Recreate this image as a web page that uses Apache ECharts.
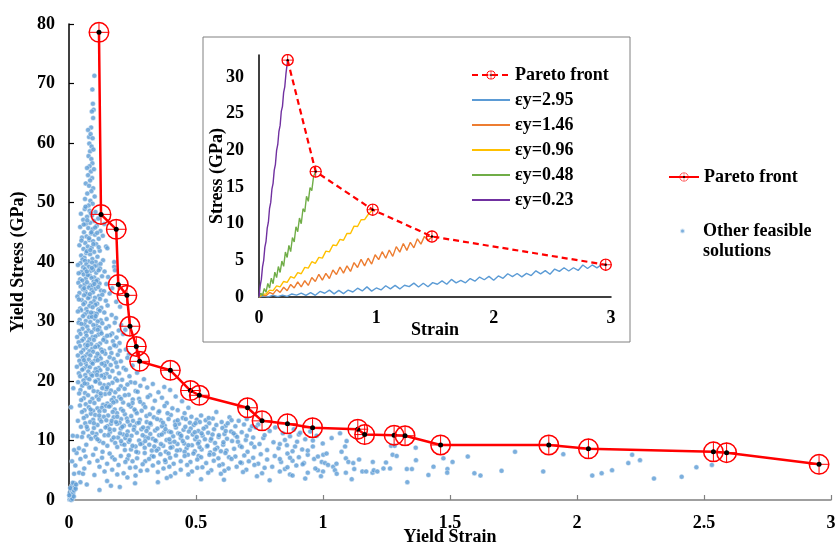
<!DOCTYPE html>
<html>
<head>
<meta charset="utf-8">
<title>Pareto front of yield stress vs yield strain</title>
<script src="https://cdn.jsdelivr.net/npm/echarts@6/dist/echarts.min.js"></script>
<style>
  html, body { margin: 0; padding: 0; background: #fff; }
  #chart { width: 835px; height: 546px; }
</style>
</head>
<body>
<div id="chart"></div>
<script>
// main chart: Pareto front (yield strain, yield stress in GPa)
const paretoStrain = [0.118, 0.126, 0.186, 0.194, 0.228, 0.240, 0.265, 0.278, 0.399, 0.478, 0.513, 0.703, 0.760,
  0.860, 0.959, 1.137, 1.164, 1.280, 1.323, 1.463, 1.889, 2.045, 2.537, 2.589, 2.953];
const paretoStress = [78.6, 48.0, 45.5, 36.2, 34.4, 29.2, 25.8, 23.3, 21.8, 18.4, 17.6, 15.5, 13.3,
  12.8, 12.15, 11.9, 11.0, 10.9, 10.8, 9.25, 9.25, 8.6, 8.1, 7.95, 6.0];

// other feasible solutions (strain, stress)
const feasiblePoints = [
  // narrow spike
  [0.100,71.3],[0.092,69.0],[0.094,66.6],[0.097,65.6],[0.090,65.3],[0.095,64.2],[0.087,62.6],[0.075,62.2],[0.079,61.0],[0.085,61.5],
  [0.093,60.8],[0.080,59.9],[0.089,59.4],[0.083,58.6],[0.096,58.9],[0.077,57.8],[0.088,57.3],[0.092,56.6],[0.081,56.1],[0.071,55.8],
  [0.086,55.2],[0.098,55.6],[0.075,54.6],[0.091,54.1],[0.083,53.7],[0.066,53.2],[0.079,52.8],[0.095,52.4],[0.088,51.9],[0.072,51.5],
  [0.101,51.0],[0.063,50.6],[0.084,50.3],[0.093,49.8],[0.077,49.5],
  // 40-49
  [0.062,48.9],[0.081,48.6],[0.104,48.4],[0.047,48.1],[0.090,47.8],[0.071,47.6],[0.115,47.3],[0.056,47.1],[0.098,46.9],[0.083,46.6],
  [0.066,46.4],[0.109,46.1],[0.044,45.9],[0.076,45.7],[0.093,45.5],[0.124,45.2],[0.059,45.0],[0.087,44.8],[0.102,44.6],[0.069,44.3],
  [0.051,44.1],[0.117,43.9],[0.080,43.7],[0.095,43.5],[0.064,43.2],[0.146,42.6],[0.151,42.3],[0.107,43.0],[0.041,42.8],[0.074,42.6],
  [0.089,42.4],[0.057,42.2],[0.121,41.9],[0.099,41.7],[0.068,41.5],[0.083,41.3],[0.048,41.1],[0.112,40.9],[0.061,40.7],[0.092,40.5],
  [0.134,40.3],[0.077,40.1],[0.105,40.0],[0.053,40.4],[0.072,47.0],[0.088,45.0],[0.079,44.0],[0.096,43.0],[0.058,46.3],[0.111,44.9],
  [0.070,41.8],[0.086,48.2],[0.065,49.3],[0.128,47.9],[0.139,46.4],[0.133,44.4],[0.103,45.8],[0.049,43.6],[0.084,42.0],[0.117,42.5],
  [0.063,40.2],[0.178,40.0],
  // 30-40
  [0.045,39.8],[0.068,39.6],[0.091,39.9],[0.112,39.4],[0.079,39.2],[0.056,39.1],[0.124,39.7],[0.178,39.2],[0.101,39.3],[0.035,39.5],
  [0.122,38.9],[0.181,38.6],[0.063,38.8],[0.085,38.5],[0.049,38.3],[0.107,38.2],[0.073,38.0],[0.095,38.7],[0.140,38.4],[0.038,38.1],
  [0.117,38.6],[0.058,37.9],[0.082,37.7],[0.099,37.4],[0.066,37.2],[0.130,37.6],[0.044,37.1],[0.113,37.0],[0.089,37.3],[0.154,37.5],
  [0.074,37.8],[0.052,36.9],[0.097,36.7],[0.120,36.4],[0.061,36.2],[0.083,36.1],[0.108,36.8],[0.037,36.5],[0.147,36.3],[0.071,36.6],
  [0.092,36.0],[0.046,35.9],[0.078,35.7],[0.104,35.5],[0.126,35.2],[0.065,35.0],[0.089,35.3],[0.115,35.8],[0.170,35.6],[0.055,35.4],
  [0.138,35.1],[0.041,34.8],[0.069,34.6],[0.094,34.9],[0.118,34.3],[0.081,34.1],[0.059,34.4],[0.102,34.0],[0.160,34.7],[0.131,34.5],
  [0.033,34.2],[0.075,33.9],[0.050,33.6],[0.098,33.4],[0.122,33.8],[0.086,33.1],[0.063,33.2],[0.111,33.0],[0.145,33.5],[0.186,33.3],
  [0.039,33.7],[0.057,32.9],[0.080,32.6],[0.104,32.8],[0.127,32.3],[0.068,32.1],[0.093,32.4],[0.044,32.2],[0.152,32.7],[0.116,32.0],
  [0.201,32.5],[0.048,31.9],[0.073,31.6],[0.097,31.4],[0.121,31.8],[0.062,31.2],[0.085,31.0],[0.139,31.5],[0.168,31.1],[0.035,31.7],
  [0.109,31.3],[0.055,30.9],[0.079,30.7],[0.101,30.5],[0.125,30.2],[0.066,30.1],[0.090,30.8],[0.148,30.4],[0.042,30.3],[0.113,30.0],
  [0.185,30.6],
  // 20-30
  [0.038,29.8],[0.061,29.5],[0.084,29.9],[0.108,29.3],[0.131,29.7],[0.072,29.1],[0.096,29.4],[0.157,29.2],[0.049,29.6],[0.119,29.0],
  [0.180,29.8],[0.205,29.4],[0.053,28.8],[0.077,28.5],[0.100,28.7],[0.124,28.3],[0.146,28.9],[0.066,28.1],[0.089,28.2],[0.040,28.4],
  [0.113,28.6],[0.170,28.0],[0.196,28.5],[0.222,28.6],[0.045,27.9],[0.069,27.6],[0.093,27.4],[0.116,27.8],[0.139,27.2],[0.058,27.1],
  [0.081,27.0],[0.104,27.5],[0.162,27.7],[0.187,27.3],[0.213,27.9],[0.032,27.4],[0.051,26.8],[0.075,26.5],[0.098,26.9],[0.122,26.3],
  [0.147,26.6],[0.064,26.1],[0.087,26.2],[0.110,26.0],[0.173,26.7],[0.199,26.4],[0.038,26.5],[0.135,26.9],[0.043,25.9],[0.068,25.6],
  [0.091,25.4],[0.115,25.8],[0.138,25.1],[0.056,25.2],[0.080,25.0],[0.103,25.7],[0.161,25.5],[0.185,25.9],[0.224,25.3],[0.127,25.3],
  [0.027,25.6],[0.048,24.8],[0.072,24.5],[0.095,24.9],[0.119,24.2],[0.143,24.6],[0.061,24.1],[0.084,24.3],[0.107,24.0],[0.167,24.7],
  [0.192,24.4],[0.035,24.3],[0.131,24.9],[0.236,24.5],[0.054,23.9],[0.078,23.6],[0.101,23.4],[0.125,23.8],[0.150,23.2],[0.066,23.0],
  [0.089,23.1],[0.113,23.5],[0.176,23.7],[0.204,23.3],[0.041,23.4],[0.138,23.0],[0.230,23.9],[0.046,22.8],[0.070,22.5],[0.093,22.9],
  [0.117,22.2],[0.141,22.6],[0.058,22.1],[0.082,22.3],[0.105,22.0],[0.164,22.7],[0.189,22.4],[0.215,22.2],[0.129,22.9],[0.250,22.6],
  [0.031,22.4],[0.052,21.9],[0.076,21.6],[0.099,21.4],[0.123,21.8],[0.148,21.2],[0.064,21.0],[0.087,21.1],[0.111,21.5],[0.171,21.7],
  [0.197,21.3],[0.224,21.9],[0.039,21.3],[0.136,21.0],[0.268,21.4],[0.044,20.8],[0.068,20.5],[0.091,20.9],[0.115,20.2],[0.139,20.6],
  [0.057,20.1],[0.080,20.3],[0.103,20.0],[0.160,20.7],[0.183,20.4],[0.209,20.2],[0.238,20.8],[0.127,20.9],[0.295,20.3],
  // 14-20
  [0.036,19.8],[0.072,19.5],[0.105,19.9],[0.138,19.3],[0.171,19.7],[0.204,19.1],[0.052,19.2],[0.089,19.0],[0.122,19.6],[0.156,19.4],
  [0.243,19.8],[0.281,19.2],[0.330,19.5],[0.375,19.0],[0.017,18.8],[0.045,18.5],[0.080,18.9],[0.113,18.2],[0.147,18.6],[0.182,18.1],
  [0.063,18.0],[0.097,18.3],[0.131,18.8],[0.165,18.4],[0.219,18.7],[0.262,18.3],[0.308,18.9],[0.352,18.1],[0.398,18.5],[0.040,17.9],
  [0.075,17.6],[0.109,17.4],[0.142,17.8],[0.176,17.2],[0.058,17.1],[0.092,17.0],[0.125,17.5],[0.159,17.9],[0.198,17.3],[0.235,17.7],
  [0.276,17.0],[0.319,17.6],[0.366,17.2],[0.420,17.4],[0.048,16.8],[0.083,16.5],[0.117,16.9],[0.151,16.2],[0.186,16.6],[0.066,16.1],
  [0.100,16.3],[0.134,16.0],[0.168,16.8],[0.213,16.4],[0.251,16.9],[0.293,16.1],[0.338,16.7],[0.385,16.3],[0.445,16.6],[0.008,15.6],
  [0.043,15.9],[0.078,15.6],[0.112,15.4],[0.146,15.8],[0.180,15.2],[0.061,15.1],[0.095,15.0],[0.129,15.5],[0.163,15.9],[0.205,15.3],
  [0.243,15.7],[0.286,15.0],[0.330,15.4],[0.376,15.8],[0.428,15.1],[0.470,15.5],[0.051,14.8],[0.086,14.5],[0.120,14.9],[0.154,14.2],
  [0.189,14.6],[0.069,14.1],[0.103,14.3],[0.137,14.0],[0.172,14.8],[0.220,14.4],[0.262,14.9],[0.305,14.1],[0.352,14.7],[0.401,14.3],
  [0.455,14.6],[0.520,14.2],[0.580,14.8],
  // 8-14
  [0.058,13.8],[0.121,13.6],[0.176,13.9],[0.228,13.7],[0.279,13.5],[0.334,13.9],[0.392,13.6],[0.448,13.8],[0.503,13.5],[0.566,13.7],
  [0.632,13.9],[0.095,13.5],[0.205,13.6],[0.700,13.6],[0.035,13.3],[0.083,13.1],[0.147,13.4],[0.199,13.0],[0.252,13.3],[0.306,13.1],
  [0.361,13.4],[0.418,13.2],[0.476,13.0],[0.538,13.4],[0.601,13.1],[0.668,13.3],[0.745,12.7],[0.127,13.2],[0.064,12.9],[0.112,12.6],
  [0.165,12.8],[0.216,12.5],[0.268,12.9],[0.322,12.7],[0.377,12.5],[0.433,12.8],[0.491,12.6],[0.552,12.9],[0.617,12.5],[0.689,12.7],
  [0.812,12.2],[0.240,12.6],[0.047,12.3],[0.098,12.1],[0.151,12.4],[0.204,12.0],[0.257,12.3],[0.311,12.1],[0.366,12.4],[0.421,12.2],
  [0.479,12.0],[0.540,12.3],[0.604,12.1],[0.655,12.4],[0.735,12.2],[0.885,11.9],[0.073,11.9],[0.125,11.6],[0.178,11.8],[0.231,11.5],
  [0.285,11.9],[0.339,11.7],[0.394,11.5],[0.451,11.8],[0.509,11.6],[0.571,11.9],[0.638,11.5],[0.712,11.8],[0.790,11.6],[0.950,11.5],
  [0.056,11.3],[0.108,11.1],[0.161,11.4],[0.214,11.0],[0.267,11.3],[0.320,11.1],[0.374,11.4],[0.430,11.2],[0.487,11.0],[0.548,11.3],
  [0.612,11.1],[0.680,11.4],[0.842,11.2],[0.905,11.0],[0.032,10.7],[0.051,10.6],[0.078,10.7],[0.104,10.6],[0.140,10.9],[0.193,10.5],
  [0.246,10.8],[0.300,10.6],[0.355,10.9],[0.410,10.7],[0.466,10.5],[0.526,10.8],[0.589,10.6],[0.655,10.9],[0.725,10.5],[0.870,10.7],
  [0.975,10.8],[0.087,10.3],[0.169,10.1],[0.222,10.4],[0.276,10.0],[0.330,10.3],[0.384,10.1],[0.440,10.4],[0.497,10.2],[0.558,10.0],
  [0.622,10.3],[0.696,10.1],[0.765,10.4],[0.930,10.2],[0.120,9.9],[0.182,9.6],[0.235,9.8],[0.289,9.5],[0.343,9.9],[0.398,9.7],
  [0.454,9.5],[0.512,9.8],[0.575,9.6],[0.642,9.9],[0.718,9.5],[0.805,9.7],[0.898,9.8],[0.068,9.3],[0.151,9.1],[0.208,9.4],
  [0.262,9.0],[0.316,9.3],[0.371,9.1],[0.427,9.4],[0.484,9.2],[0.543,9.0],[0.607,9.3],[0.673,9.1],[0.750,9.4],[0.858,9.2],
  [0.960,9.0],[0.039,8.7],[0.105,8.6],[0.190,8.9],[0.244,8.5],[0.298,8.8],[0.352,8.6],[0.407,8.9],[0.463,8.7],[0.522,8.5],
  [0.584,8.8],[0.650,8.6],[0.730,8.9],[0.825,8.7],[0.918,8.5],[0.058,8.3],[0.132,8.1],[0.220,8.4],[0.272,8.0],[0.326,8.3],
  [0.381,8.1],[0.437,8.4],[0.495,8.2],[0.556,8.0],[0.620,8.3],[0.703,8.1],[0.780,8.4],[0.880,8.2],
  // denser core
  [0.158,15.7],[0.213,15.0],[0.267,14.6],[0.231,13.2],[0.189,12.8],[0.292,12.2],[0.347,13.6],[0.255,11.8],[0.201,11.2],[0.312,10.4],
  [0.365,11.0],[0.418,12.6],[0.472,11.5],[0.395,10.2],[0.448,9.9],[0.503,10.6],[0.530,12.0],[0.281,9.4],[0.336,9.0],[0.239,10.1],
  [0.176,10.5],[0.144,12.2],[0.119,14.2],[0.168,13.3],[0.300,15.6],[0.355,14.9],[0.407,15.4],[0.460,13.6],[0.515,13.1],[0.580,12.6],
  [0.617,11.6],[0.560,10.3],[0.608,9.7],[0.662,10.6],[0.575,8.5],[0.514,8.9],[0.425,8.3],[0.468,7.6],[0.392,7.8],[0.326,7.4],
  [0.265,8.1],[0.218,9.3],[0.190,14.0],[0.250,16.3],[0.220,17.6],[0.270,18.2],[0.190,20.1],[0.320,12.9],[0.380,11.9],[0.436,11.1],
  [0.495,11.4],[0.545,9.1],[0.680,8.9],[0.720,12.4],[0.770,10.9],[0.830,9.4],[0.640,13.4],[0.700,10.8],
  [0.135,9.6],[0.160,11.9],[0.185,13.1],[0.210,12.3],[0.228,10.9],[0.245,14.1],[0.275,13.0],[0.290,10.9],[0.305,11.6],[0.318,14.4],
  [0.340,10.0],[0.348,12.0],[0.362,9.4],[0.370,13.0],[0.388,14.6],[0.402,11.4],[0.415,9.8],[0.428,13.4],[0.442,10.8],[0.458,12.3],
  [0.470,9.2],[0.482,14.0],[0.498,12.9],[0.508,9.5],[0.522,11.2],[0.535,10.2],[0.550,13.8],[0.565,11.0],[0.590,10.9],[0.598,8.2],
  [0.625,12.9],[0.648,11.2],[0.665,9.8],[0.112,10.2],[0.098,12.9],[0.140,15.0],[0.175,16.4],[0.205,17.0],[0.235,16.0],[0.258,15.2],
  [0.280,16.5],[0.310,17.3],[0.150,18.9],[0.125,17.9],[0.195,18.6],[0.230,19.4],[0.260,19.7],[0.110,21.0],[0.152,22.0],[0.185,23.1],
  [0.160,24.0],[0.200,25.1],[0.178,26.0],[0.150,27.6],[0.128,28.0],[0.105,30.9],[0.082,34.6],[0.070,38.4],[0.090,39.0],[0.100,36.3],
  [0.060,35.6],[0.087,31.5],[0.112,24.6],[0.073,26.0],[0.059,23.5],[0.062,19.6],[0.085,15.2],[0.070,12.3],[0.092,11.3],[0.155,10.9],
  [0.205,9.9],[0.250,9.1],[0.300,9.9],[0.345,8.3],[0.400,8.8],[0.455,8.1],[0.510,7.4],[0.570,7.7],[0.630,7.2],[0.680,6.2],
  [0.380,6.4],[0.300,6.5],[0.230,6.9],[0.170,7.2],
  // 3-8
  [0.030,7.9],[0.095,7.6],[0.160,7.8],[0.235,7.5],[0.298,7.9],[0.360,7.7],[0.421,7.5],[0.490,7.8],[0.553,7.6],[0.616,7.9],
  [0.690,7.5],[0.755,7.7],[0.860,7.8],[0.940,7.6],[0.065,7.3],[0.130,7.1],[0.204,7.4],[0.268,7.0],[0.333,7.3],[0.398,7.1],
  [0.455,7.4],[0.520,7.2],[0.588,7.0],[0.655,7.3],[0.725,7.1],[0.810,7.4],[0.905,7.2],[0.045,6.9],[0.112,6.6],[0.180,6.8],
  [0.250,6.5],[0.315,6.9],[0.378,6.7],[0.440,6.5],[0.505,6.8],[0.570,6.6],[0.640,6.9],[0.708,6.5],[0.780,6.8],[0.880,6.6],
  [0.965,6.9],[0.080,6.3],[0.150,6.1],[0.222,6.4],[0.290,6.0],[0.352,6.3],[0.412,6.1],[0.478,6.4],[0.540,6.2],[0.605,6.0],
  [0.675,6.3],[0.745,6.1],[0.835,6.4],[0.925,6.2],[0.025,5.8],[0.120,5.6],[0.195,5.9],[0.262,5.5],[0.330,5.8],[0.395,5.6],
  [0.465,5.9],[0.525,5.5],[0.592,5.8],[0.660,5.6],[0.730,5.9],[0.800,5.6],[0.895,5.8],[0.060,5.3],[0.170,5.1],[0.240,5.4],
  [0.308,5.0],[0.372,5.3],[0.440,5.1],[0.505,5.4],[0.560,5.0],[0.628,5.3],[0.698,5.1],[0.770,5.4],[0.850,5.2],[0.980,5.0],
  [0.040,4.6],[0.140,4.8],[0.215,4.5],[0.282,4.9],[0.350,4.7],[0.418,4.5],[0.484,4.8],[0.548,4.6],[0.612,4.9],[0.685,4.7],
  [0.760,4.5],[0.830,4.8],[0.940,4.6],[0.020,4.4],[0.055,4.4],[0.100,4.2],[0.190,4.3],[0.262,4.1],[0.400,4.0],[0.470,4.3],
  [0.598,4.4],[0.740,4.0],[0.870,4.3],[0.150,3.2],[0.230,3.8],[0.385,3.7],[0.520,3.5],[0.610,3.4],[0.790,3.3],
  // sparse low and origin cluster
  [0.120,1.7],[0.200,2.2],[0.070,2.6],[0.045,3.0],[0.260,2.8],[0.165,2.4],[0.350,3.0],
  [0.002,0.1],[0.004,0.5],[0.006,0.2],[0.008,0.9],[0.010,0.4],[0.003,1.2],[0.012,1.5],[0.014,0.7],[0.007,1.8],[0.016,1.1],
  [0.018,2.1],[0.011,2.4],[0.020,1.6],[0.022,2.8],[0.015,2.9],[0.024,2.2],[0.009,0.0],[0.005,2.0],[0.013,0.2],[0.026,1.9],
  [0.019,0.6],[0.028,2.6],[0.001,0.8],[0.015,10.8],[0.012,6.5],[0.020,8.4],
  // 0.83 - 1.0
  [0.850,10.1],[0.870,7.1],[0.890,9.0],[0.910,11.3],[0.920,6.0],[0.940,8.3],[0.960,10.0],[0.970,5.3],[0.980,7.3],[0.860,5.5],
  [0.830,6.9],[0.880,4.1],[0.930,3.6],
  // sparse tail
  [0.999,9.5],[1.034,10.4],[1.067,11.2],[1.087,9.0],[1.093,9.9],[1.073,8.1],[1.001,7.6],[1.014,7.8],[0.995,6.4],[1.008,6.2],
  [1.020,5.9],[1.040,5.6],[1.053,6.1],[1.047,5.0],[1.000,4.8],[0.992,4.0],[1.054,4.4],[1.090,7.0],[1.100,6.4],[1.119,6.2],
  [1.123,5.2],[1.090,4.6],[1.113,3.5],[1.142,6.8],[1.155,4.8],[1.170,4.8],[1.195,4.6],[1.200,5.0],[1.196,6.4],[1.214,4.8],
  [1.238,5.3],[1.248,6.3],[1.264,5.3],[1.268,9.1],[1.274,7.6],[1.290,7.4],[1.282,9.1],[1.330,5.2],[1.350,5.2],[1.332,3.0],
  [1.365,8.8],[1.366,6.7],[1.415,4.2],[1.435,5.6],[1.474,7.0],[1.490,5.2],[1.489,4.6],[1.510,6.4],[1.570,7.3],[1.596,4.5],
  [1.620,4.1],[1.703,4.9],[1.756,8.1],[1.867,4.8],[1.946,7.7],[2.060,4.1],[2.097,4.5],[2.138,5.0],[2.202,6.2],[2.217,7.6],
  [2.248,6.7],[2.303,3.6],[2.412,3.9],[2.470,5.5],[2.531,5.9]
];

// inset: stress-strain curves (strain, stress in GPa)
const insetParetoStrain = [0.244, 0.483, 0.969, 1.474, 2.955];
const insetParetoStress = [32.3, 17.1, 11.9, 8.25, 4.4];

const curve295 = [
  [0,0],[0.04,0.14],[0.08,0.01],[0.12,0.26],[0.16,0.05],[0.20,0.25],[0.24,0.09],[0.28,0.41],[0.32,0.26],[0.36,0.53],
  [0.40,0.21],[0.44,0.60],[0.48,0.23],[0.52,0.76],[0.56,0.51],[0.60,0.94],[0.64,0.43],[0.68,0.91],[0.72,0.46],[0.76,0.95],
  [0.80,0.68],[0.84,1.20],[0.88,0.83],[0.92,1.38],[0.96,0.80],[1.00,1.23],[1.04,0.96],[1.08,1.54],[1.12,1.11],[1.16,1.58],
  [1.20,1.10],[1.24,1.60],[1.28,1.41],[1.32,1.89],[1.36,1.37],[1.40,1.88],[1.44,1.40],[1.48,1.96],[1.52,1.74],[1.56,2.20],
  [1.60,1.74],[1.64,2.40],[1.68,1.92],[1.72,2.27],[1.76,1.93],[1.80,2.51],[1.84,2.16],[1.88,2.72],[1.92,2.35],[1.96,2.81],
  [2.00,2.29],[2.04,2.87],[2.08,2.54],[2.12,3.17],[2.16,2.79],[2.20,3.20],[2.24,2.75],[2.28,3.22],[2.32,2.92],[2.36,3.57],
  [2.40,3.16],[2.44,3.59],[2.48,3.11],[2.52,3.81],[2.56,3.49],[2.60,3.99],[2.64,3.54],[2.68,3.99],[2.72,3.62],[2.76,4.37],
  [2.80,3.89],[2.84,4.37],[2.88,3.97],[2.92,4.41],[2.955,4.4]
];
const curve146 = [
  [0,0],[0.03,0.24],[0.06,0.16],[0.09,0.63],[0.12,0.39],[0.15,1.00],[0.18,0.62],[0.21,1.33],[0.24,0.86],[0.27,1.71],
  [0.30,1.24],[0.33,2.07],[0.36,1.39],[0.39,2.22],[0.42,1.58],[0.45,2.66],[0.48,2.11],[0.51,3.10],[0.54,2.31],[0.57,3.22],
  [0.60,2.52],[0.63,3.68],[0.66,3.06],[0.69,4.09],[0.72,3.25],[0.75,4.24],[0.78,3.48],[0.81,4.70],[0.84,4.02],[0.87,5.14],
  [0.90,4.24],[0.93,5.29],[0.96,4.49],[0.99,5.76],[1.02,5.10],[1.05,6.18],[1.08,5.28],[1.11,6.41],[1.14,5.54],[1.17,6.87],
  [1.20,6.12],[1.23,7.29],[1.26,6.36],[1.29,7.46],[1.32,6.70],[1.35,7.94],[1.38,7.21],[1.41,8.27],[1.44,7.66],[1.474,8.25]
];
const curve096 = [
  [0,0],[0.03,0.36],[0.06,0.40],[0.09,0.94],[0.12,0.87],[0.15,1.52],[0.18,1.38],[0.21,2.12],[0.24,1.99],[0.27,2.78],
  [0.30,2.58],[0.33,3.32],[0.36,3.17],[0.39,4.04],[0.42,3.94],[0.45,4.81],[0.48,4.60],[0.51,5.40],[0.54,5.30],[0.57,6.25],
  [0.60,6.16],[0.63,7.09],[0.66,7.00],[0.69,7.86],[0.72,7.74],[0.75,8.68],[0.78,8.66],[0.81,9.67],[0.84,9.61],[0.87,10.54],
  [0.90,10.56],[0.93,11.25],[0.969,11.9]
];
const curve048 = [
  [0,0],[0.015,0.52],[0.03,0.21],[0.045,1.17],[0.06,0.65],[0.075,1.85],[0.09,1.22],[0.105,2.56],[0.12,1.81],[0.135,3.39],
  [0.15,2.64],[0.165,4.16],[0.18,3.35],[0.195,4.90],[0.21,4.18],[0.225,6.13],[0.24,5.39],[0.255,7.03],[0.27,6.19],[0.285,8.11],
  [0.30,7.51],[0.315,9.58],[0.33,8.91],[0.345,10.77],[0.36,9.99],[0.375,12.04],[0.39,11.60],[0.405,13.74],[0.42,13.04],[0.435,14.92],
  [0.45,14.51],[0.465,16.42],[0.483,17.1]
];
const curve023 = [
  [0,0],[0.01,1.5],[0.02,2.4],[0.03,4.1],[0.04,5.0],[0.05,6.8],[0.06,7.6],[0.07,9.4],[0.08,10.2],[0.09,12.1],
  [0.10,12.9],[0.11,14.7],[0.12,15.5],[0.13,17.3],[0.14,18.1],[0.15,20.0],[0.16,20.8],[0.17,22.6],[0.18,23.4],[0.19,25.3],
  [0.20,26.0],[0.21,27.9],[0.22,28.7],[0.23,30.5],[0.244,32.3]
];

const curveNames = ["εy=2.95", "εy=1.46", "εy=0.96", "εy=0.48", "εy=0.23"];
const curveColors = ["#5b9bd5", "#ed7d31", "#ffc000", "#70ad47", "#7030a0"];
const curves = [curve295, curve146, curve096, curve048, curve023];

const FONT = '"Liberation Serif", "Times New Roman", serif';
const textBold = { fontFamily: FONT, fontWeight: "bold", fontSize: 18, color: "#000" };

// red ring with cross hair and a black centre dot
function markerSymbol(ring, cross, dot) {
  const svg =
    '<svg xmlns="http://www.w3.org/2000/svg" width="44" height="44" viewBox="0 0 44 44">' +
    '<circle cx="22" cy="22" r="' + (21 - ring / 2) + '" fill="none" stroke="#ff0000" stroke-width="' + ring + '"/>' +
    '<path d="M22 2V42M2 22H42" stroke="#ff0000" stroke-width="' + cross + '"/>' +
    '<circle cx="22" cy="22" r="' + dot + '" fill="#000"/></svg>';
  return "image://data:image/svg+xml;charset=utf-8," + encodeURIComponent(svg);
}

const chart = echarts.init(document.getElementById("chart"), null, { renderer: "canvas" });

const curveSeries = curves.map((pts, i) => ({
  name: curveNames[i],
  type: "line",
  xAxisIndex: 1,
  yAxisIndex: 1,
  data: pts,
  symbol: "none",
  lineStyle: { color: curveColors[i], width: 1.4 },
  itemStyle: { color: curveColors[i] },
  z: 3,
}));

chart.setOption({
  animation: false,
  backgroundColor: "#fff",
  grid: [
    { left: 69, right: 4, top: 24, bottom: 46, outerBoundsMode: "none", containLabel: false },
    { left: 259, top: 55, width: 352, height: 242, outerBoundsMode: "none", containLabel: false },
    { left: 203, top: 37, width: 427, height: 305, show: true, backgroundColor: "#fff",
      borderColor: "#808080", borderWidth: 1, z: -1, outerBoundsMode: "none" },
  ],
  legend: [
    {
      data: ["Pareto front"],
      left: 668, top: 167, padding: 0, orient: "vertical",
      itemWidth: 30, itemHeight: 12,
      selectedMode: false,
      textStyle: Object.assign({ lineHeight: 20 }, textBold),
    },
    {
      data: ["Other feasible solutions"],
      left: 679, top: 201, padding: 0,
      itemWidth: 5, itemHeight: 5,
      selectedMode: false,
      formatter: () => " \nOther feasible\nsolutions",
      textStyle: Object.assign({ lineHeight: 20, padding: [0, 0, 0, 13] }, textBold),
    },
    {
      data: [{ name: "Pareto front (inset)" }].concat(
        curveNames.map((n) => ({ name: n, itemStyle: { opacity: 0 } }))
      ),
      left: 471, top: 65, padding: 0, orient: "vertical",
      itemWidth: 38, itemHeight: 12, itemGap: 5,
      selectedMode: false,
      formatter: (name) => name.replace(" (inset)", ""),
      textStyle: Object.assign({ lineHeight: 20 }, textBold),
    },
  ],
  xAxis: [
    {
      type: "value", gridIndex: 0, min: 0, max: 3, interval: 0.5,
      name: "Yield Strain", nameLocation: "middle", nameGap: 28, nameMoveOverlap: false, nameTextStyle: textBold,
      axisLine: { lineStyle: { color: "#808080", width: 1.5 } },
      axisTick: { inside: true, length: 5, lineStyle: { color: "#808080", width: 1.2 } },
      axisLabel: Object.assign({ margin: 14 }, textBold),
      splitLine: { show: false },
    },
    {
      type: "value", gridIndex: 1, min: 0, max: 3, interval: 1,
      name: "Strain", nameLocation: "middle", nameGap: 24, nameMoveOverlap: false, nameTextStyle: textBold,
      axisLine: { lineStyle: { color: "#000", width: 1.5 } },
      axisTick: { show: false },
      axisLabel: Object.assign({ margin: 12 }, textBold),
      splitLine: { show: false },
    },
    { type: "value", gridIndex: 2, show: false },
  ],
  yAxis: [
    {
      type: "value", gridIndex: 0, min: 0, max: 80, interval: 10,
      name: "Yield Stress (GPa)", nameLocation: "middle", nameGap: 42, nameMoveOverlap: false, nameTextStyle: textBold,
      axisLine: { show: true, lineStyle: { color: "#000", width: 1.5 } },
      axisTick: { show: true, inside: true, length: 5, lineStyle: { color: "#000", width: 1.2 } },
      axisLabel: Object.assign({ margin: 14 }, textBold),
      splitLine: { show: false },
    },
    {
      type: "value", gridIndex: 1, min: 0, max: 33, interval: 5,
      name: "Stress (GPa)", nameLocation: "middle", nameGap: 33, nameMoveOverlap: false, nameTextStyle: textBold,
      axisLine: { show: true, lineStyle: { color: "#000", width: 1.5 } },
      axisTick: { show: false },
      axisLabel: Object.assign({ margin: 15, showMaxLabel: false }, textBold),
      splitLine: { show: false },
    },
    { type: "value", gridIndex: 2, show: false },
  ],
  series: [
    {
      name: "Other feasible solutions",
      type: "scatter",
      xAxisIndex: 0, yAxisIndex: 0,
      data: feasiblePoints,
      symbolSize: 5,
      itemStyle: { color: "#5b9bd5", borderColor: "rgba(255,255,255,0.85)", borderWidth: 0.6 },
      z: 2,
    },
    {
      name: "Pareto front",
      type: "line",
      xAxisIndex: 0, yAxisIndex: 0,
      data: paretoStrain.map((x, i) => [x, paretoStress[i]]),
      symbol: markerSymbol(3, 2, 5),
      symbolSize: 22,
      showAllSymbol: true,
      lineStyle: { color: "#ff0000", width: 2.5 },
      itemStyle: { color: "#ff0000" },
      z: 4,
    },
  ].concat(curveSeries, [
    {
      name: "Pareto front (inset)",
      type: "line",
      xAxisIndex: 1, yAxisIndex: 1,
      data: insetParetoStrain.map((x, i) => [x, insetParetoStress[i]]),
      symbol: markerSymbol(4.5, 3, 4),
      symbolSize: 13,
      showAllSymbol: true,
      lineStyle: { color: "#ff0000", width: 2.2, type: [6, 4] },
      itemStyle: { color: "#ff0000" },
      z: 5,
    },
  ]),
});
</script>
</body>
</html>
